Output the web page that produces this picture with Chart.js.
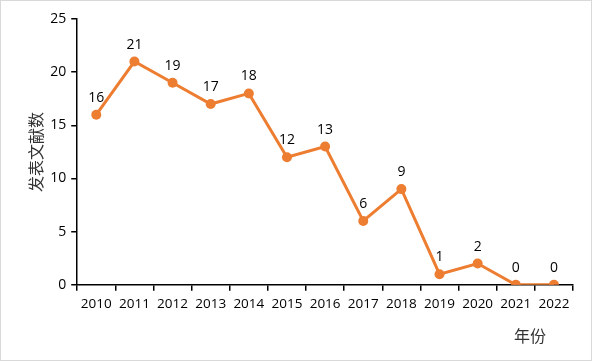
<!DOCTYPE html>
<html>
<head>
<meta charset="utf-8">
<script src="https://cdn.jsdelivr.net/npm/chart.js@4"></script>
<style>
  html, body { margin: 0; padding: 0; background: #fff; }
  #wrap { width: 590px; height: 359px; border: 1px solid #d9d9d9; }
</style>
</head>
<body>
<div id="wrap"><canvas id="chart" width="590" height="359"></canvas></div>
<script>
// chart data
const years = ['2010', '2011', '2012', '2013', '2014', '2015', '2016', '2017', '2018', '2019', '2020', '2021', '2022'];
const papers = [16, 21, 19, 17, 18, 12, 13, 6, 9, 1, 2, 0, 0];
const yTicks = [0, 5, 10, 15, 20, 25];

const orange = '#ED7D31';
const labelFont = '14px "Open Sans", "Noto Sans", sans-serif';

// Draws the value above each point
const valueLabels = {
    id: 'valueLabels',
    afterDatasetsDraw(chart) {
        const ctx = chart.ctx;
        const meta = chart.getDatasetMeta(0);
        ctx.save();
        ctx.font = labelFont;
        ctx.fillStyle = '#000';
        ctx.textAlign = 'center';
        ctx.textBaseline = 'bottom';
        meta.data.forEach((pt, i) => {
            ctx.fillText(String(papers[i]), pt.x, pt.y - 10);
        });
        ctx.restore();
    }
};

// x-axis title sits at the bottom right, not centred
const xTitle = {
    id: 'xTitle',
    afterDraw(chart) {
        const ctx = chart.ctx;
        const area = chart.chartArea;
        ctx.save();
        ctx.font = '16px "Noto Sans CJK SC", sans-serif';
        ctx.fillStyle = '#333';
        ctx.textAlign = 'center';
        ctx.textBaseline = 'middle';
        ctx.fillText('年份', area.right - 43, area.bottom + 51);
        ctx.restore();
    }
};

new Chart(document.getElementById('chart'), {
    type: 'line',
    data: {
        labels: years,
        datasets: [{
            data: papers,
            borderColor: orange,
            backgroundColor: orange,
            borderWidth: 3,
            pointRadius: 5,
            pointBackgroundColor: orange,
            pointBorderWidth: 0,
            tension: 0
        }]
    },
    options: {
        responsive: false,
        animation: false,
        layout: {
            padding: { left: 25, right: 18, top: 18, bottom: 43 }
        },
        plugins: {
            legend: { display: false },
            tooltip: { enabled: false }
        },
        scales: {
            x: {
                offset: true,
                grid: {
                    offset: true,
                    drawOnChartArea: false,
                    drawTicks: true,
                    tickLength: 6,
                    color: '#000',
                    lineWidth: 1.5
                },
                border: { color: '#000', width: 1.5 },
                ticks: {
                    color: '#000',
                    font: { size: 13.5, family: '"Open Sans", "Noto Sans", sans-serif' },
                    maxRotation: 0,
                    padding: 5
                }
            },
            y: {
                min: 0,
                max: 25,
                afterBuildTicks(scale) {
                    scale.ticks = yTicks.map(v => ({ value: v }));
                },
                grid: {
                    drawOnChartArea: false,
                    drawTicks: true,
                    tickLength: 6,
                    color: '#000',
                    lineWidth: 1.5
                },
                border: { color: '#000', width: 1.5 },
                ticks: {
                    color: '#000',
                    font: { size: 14, family: '"Open Sans", "Noto Sans", sans-serif' },
                    padding: 5
                },
                title: {
                    display: true,
                    text: '发表文献数',
                    color: '#333',
                    font: { size: 16, family: '"Noto Sans CJK SC", sans-serif' },
                    padding: { top: 0, bottom: 0 }
                }
            }
        }
    },
    plugins: [valueLabels, xTitle]
});
</script>
</body>
</html>
